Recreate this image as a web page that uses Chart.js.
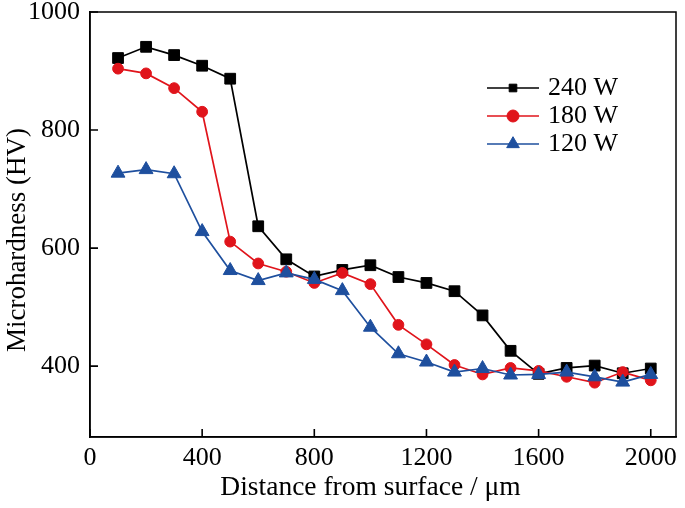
<!DOCTYPE html>
<html>
<head>
<meta charset="utf-8">
<script src="https://cdn.jsdelivr.net/npm/chart.js@4/dist/chart.umd.min.js"></script>
<style>
html,body{margin:0;padding:0;background:#fff;}
canvas{display:block;}
</style>
</head>
<body>
<canvas id="c" width="685" height="508"></canvas>
<script>
// ---- data ----
const distances = [100,200,300,400,500,600,700,800,900,1000,1100,1200,1300,1400,1500,1600,1700,1800,1900,2000];
const hv240 = [922,941,927,909,887,637,581,552,563,571,551,541,527,486,426,387,397,401,388,396];
const hv180 = [904,896,871,831,611,574,560,541,558,539,470,437,402,386,397,392,382,372,390,376];
const hv120 = [727,733,726,628,562,545,558,547,528,466,421,407,390,396,385,386,390,382,373,386];
const seriesLabels = ['240 W','180 W','120 W'];
const xTickValues = [0,400,800,1200,1600,2000];
const yTickValues = [400,600,800,1000];
const xTitle = 'Distance from surface / μm';
const yTitle = 'Microhardness (HV)';

const FONT = "'Liberation Serif','Times New Roman',Times,serif";
const toPts = arr => distances.map((d,i)=>({x:d,y:arr[i]}));

const legendRadius = {rect:5.4, circle:6, triangle:7.3};

// frame box
const boxPlugin = {
  id:'box',
  beforeDatasetsDraw(chart){
    const {ctx, chartArea:a} = chart;
    ctx.save();
    ctx.strokeStyle = '#000';
    ctx.lineWidth = 1.5;
    ctx.strokeRect(a.left, a.top, a.right - a.left, a.bottom - a.top);
    ctx.restore();
  },
  // inward tick marks, placed through the scales
  afterDraw(chart){
    const {ctx, chartArea:a, scales} = chart;
    const tl = 8;
    ctx.save();
    ctx.strokeStyle = '#000';
    ctx.lineWidth = 1.6;
    ctx.beginPath();
    xTickValues.forEach(v=>{
      const px = scales.x.getPixelForValue(v);
      ctx.moveTo(px, a.bottom); ctx.lineTo(px, a.bottom - tl);
    });
    yTickValues.forEach(v=>{
      const py = scales.y.getPixelForValue(v);
      ctx.moveTo(a.left, py); ctx.lineTo(a.left + tl, py);
    });
    ctx.stroke();
    ctx.restore();
  }
};

// axis titles, positioned as in the reference figure
const axisTitles = {
  id:'axisTitles',
  afterDraw(chart){
    const {ctx, chartArea:a} = chart;
    ctx.save();
    ctx.fillStyle = '#000';
    ctx.textAlign = 'center';
    ctx.textBaseline = 'middle';
    ctx.font = '27.5px ' + FONT;
    ctx.fillText(xTitle, a.left + 280.5, a.bottom + 51);
    ctx.translate(17.8, a.top + 228);
    ctx.rotate(-Math.PI/2);
    ctx.font = '27px ' + FONT;
    ctx.fillText(yTitle, 0, 0);
    ctx.restore();
  }
};

const insetLegend = {
  id:'insetLegend',
  afterDraw(chart){
    const {ctx, chartArea:a} = chart;
    const x0 = a.left + 397, y0 = a.top + 76, rowH = 28, lineLen = 52, gap = 9;
    chart.data.datasets.forEach((ds,i)=>{
      const y = y0 + i*rowH;
      ctx.save();
      ctx.strokeStyle = ds.borderColor;
      ctx.lineWidth = ds.borderWidth;
      ctx.beginPath();
      ctx.moveTo(x0, y);
      ctx.lineTo(x0 + lineLen, y);
      ctx.stroke();
      ctx.fillStyle = ds.pointBackgroundColor;
      ctx.strokeStyle = ds.pointBorderColor;
      ctx.lineWidth = 1;
      Chart.helpers.drawPoint(ctx, {pointStyle: ds.pointStyle, radius: legendRadius[ds.pointStyle], rotation: 0, borderWidth: 1}, x0 + lineLen/2, y);
      ctx.fillStyle = '#000';
      ctx.font = '26px ' + FONT;
      ctx.textBaseline = 'middle';
      ctx.textAlign = 'left';
      ctx.fillText(ds.label, x0 + lineLen + gap, y);
      ctx.restore();
    });
  }
};

function mkDs(label, arr, color, style, r, order){
  return {
    label, data: toPts(arr),
    borderColor: color, backgroundColor: color,
    pointBackgroundColor: color, pointBorderColor: color,
    pointStyle: style, pointRadius: r, pointBorderWidth: 1,
    borderWidth: 1.7, tension: 0, order
  };
}

const axisCommon = {
  grid: { display:false, drawTicks:false },
  border: { display:true, color:'#000', width:1.5 }
};
const plainNum = v => String(v);

new Chart(document.getElementById('c'), {
  type: 'line',
  data: {
    datasets: [
      mkDs(seriesLabels[0], hv240, '#000000', 'rect', 7.6, 3),
      mkDs(seriesLabels[1], hv180, '#e0141b', 'circle', 5.4, 2),
      mkDs(seriesLabels[2], hv120, '#1e4f9e', 'triangle', 8, 1)
    ]
  },
  options: {
    responsive: false,
    animation: false,
    events: [],
    layout: { padding: { top:12, right:7, left:0, bottom:0 } },
    plugins: { legend: { display:false }, tooltip: { enabled:false } },
    scales: {
      x: {
        type:'linear', min:0, max:2090,
        afterBuildTicks: s => { s.ticks = xTickValues.map(v=>({value:v})); },
        afterFit: s => { s.height = 71; s.paddingLeft = 0; s.paddingRight = 0; },
        ...axisCommon,
        ticks: { color:'#000', font:{family:FONT, size:26}, padding:6, maxRotation:0, autoSkip:false, callback: plainNum },
        title: { display:false }
      },
      y: {
        type:'linear', min:280, max:1000,
        afterBuildTicks: s => { s.ticks = yTickValues.map(v=>({value:v})); },
        afterFit: s => { s.width = 90; s.paddingTop = 0; s.paddingBottom = 0; },
        ...axisCommon,
        ticks: { color:'#000', font:{family:FONT, size:26}, padding:10, autoSkip:false, callback: plainNum },
        title: { display:false }
      }
    }
  },
  plugins: [boxPlugin, axisTitles, insetLegend]
});
</script>
</body>
</html>
